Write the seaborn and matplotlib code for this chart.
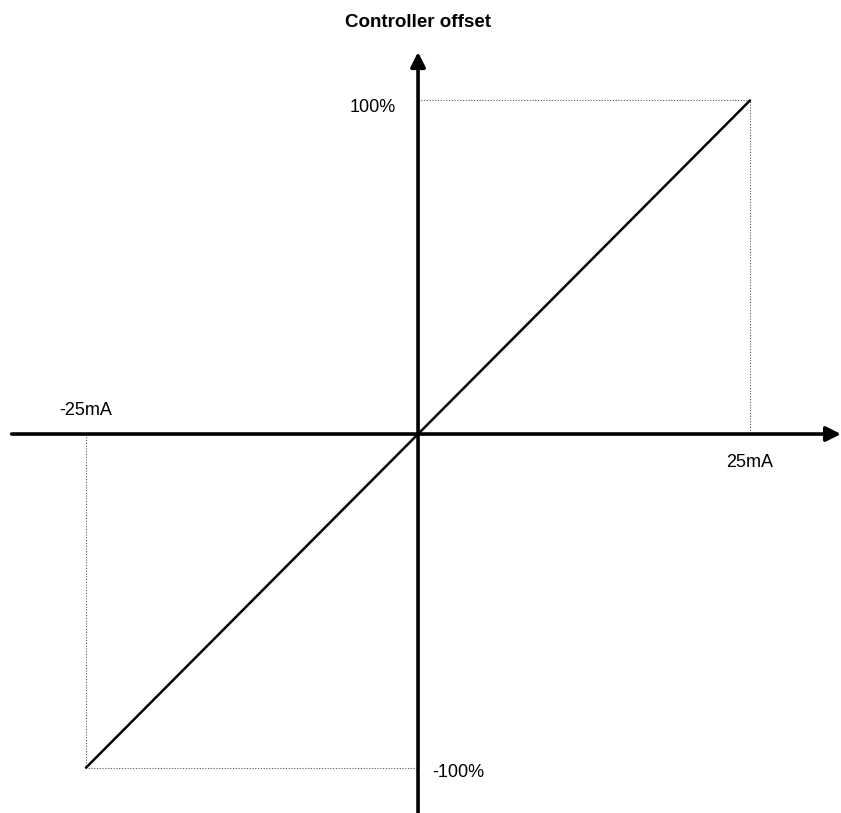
import pandas as pd
import matplotlib
matplotlib.use('Agg')
import matplotlib.pyplot as plt
import seaborn as sns

# controller input current (mA) vs. controller offset (%)
current_ma = [-25, 0, 25]
offset_pct = [-100, 0, 100]
x_labels = ['-25mA', '25mA']
y_labels = ['-100%', '100%']
title = 'Controller offset'

df = pd.DataFrame({'current': current_ma, 'offset': offset_pct})

sns.set_style('white')
plt.rcParams['font.family'] = ['Liberation Sans', 'DejaVu Sans']
plt.rcParams['text.color'] = 'black'

fig = plt.figure(figsize=(8.41, 8.13), dpi=100)
ax = fig.add_axes([0, 0, 1, 1])
ax.set_xlim(-31.48, 31.85)
ax.set_ylim(-113.6, 130.1)
ax.axis('off')

x_min, x_max = min(current_ma), max(current_ma)
y_min, y_max = min(offset_pct), max(offset_pct)

# dotted guide lines to the end points
guide = dict(color='#555555', lw=0.8, ls=(0, (1, 1.5)))
ax.plot([0, x_max, x_max], [y_max, y_max, 0], **guide)
ax.plot([x_min, x_min, 0], [0, y_min, y_min], **guide)

# axes with arrows
arrow = dict(arrowstyle='-|>', lw=2.6, color='black', mutation_scale=22,
             shrinkA=0, shrinkB=0)
ax.annotate('', xy=(31.85, 0), xytext=(-30.6, 0), arrowprops=arrow)
ax.annotate('', xy=(0, 114.5), xytext=(0, -113.6), arrowprops=arrow)

sns.lineplot(data=df, x='current', y='offset', ax=ax, color='black', lw=1.8)

# labels
ax.text(x_min, 4.5, x_labels[0], ha='center', va='bottom', fontsize=13)
ax.text(x_max, -6, x_labels[1], ha='center', va='top', fontsize=13)
ax.text(-1.7, y_max - 2, y_labels[1], ha='right', va='center', fontsize=13)
ax.text(1.1, y_min - 1.5, y_labels[0], ha='left', va='center', fontsize=13)

ax.text(0, 123.5, title, ha='center', va='center', fontsize=13.5, fontweight='bold')

fig.savefig('out.png', dpi=100)
